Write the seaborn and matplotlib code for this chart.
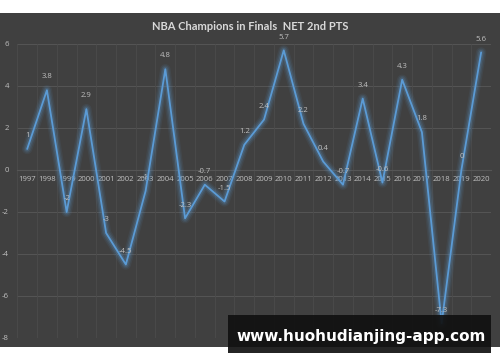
import matplotlib
matplotlib.use("Agg")
import matplotlib.pyplot as plt
import matplotlib.patches as mpatches
import seaborn as sns
import pandas as pd
import numpy as np

years = [str(y) for y in range(1997, 2021)]
values = [1, 3.8, -2, 2.9, -3, -4.5, -1, 4.8, -2.3, -0.7, -1.5, 1.2,
          2.4, 5.7, 2.2, 0.4, -0.7, 3.4, -0.6, 4.3, 1.8, -7.3, 0, 5.6]
labels = ["1", "3.8", "-2", "2.9", "-3", "-4.5", "-1", "4.8", "-2.3", "-0.7", "-1.5", "1.2",
          "2.4", "5.7", "2.2", "0.4", "-0.7", "3.4", "-0.6", "4.3", "1.8", "-7.3", "0", "5.6"]
title = "NBA Champions in Finals  NET 2nd PTS"
yticks = [-8, -6, -4, -2, 0, 2, 4, 6]
watermark = "www.huohudianjing-app.com"

sns.set_style("dark")
plt.rcParams['font.family'] = ['Open Sans', 'Noto Sans CJK SC', 'DejaVu Sans']

BG = "#404040"
GRID = "#555555"
TXT = "#bfbfbf"
BLUE = "#5b9bd5"

fig = plt.figure(figsize=(5.0, 3.62), dpi=100)
fig.patch.set_facecolor("white")
# dark chart area
bg = mpatches.Rectangle((0, 1 - 347 / 362), 1, (347 - 13) / 362,
                        transform=fig.transFigure, facecolor=BG,
                        edgecolor="none", zorder=-10)
fig.add_artist(bg)

ax = fig.add_axes([17.3 / 500, 1 - 338 / 362, (491 - 17.3) / 500, (338 - 44) / 362])
ax.set_facecolor(BG)
ax.patch.set_alpha(0)

df = pd.DataFrame({"x": np.arange(len(years)), "v": values})
# glow
for lw, a in [(7.5, 0.08), (5.5, 0.12), (3.5, 0.2)]:
    sns.lineplot(data=df, x="x", y="v", ax=ax, color=BLUE, lw=lw, alpha=a, zorder=3)
sns.lineplot(data=df, x="x", y="v", ax=ax, color=BLUE, lw=1.3, zorder=4)

ax.set_xlim(-0.5, len(years) - 0.5)
ax.set_ylim(-8, 6)
ax.set_yticks(yticks)
ax.set_yticklabels([str(t) for t in yticks])
ax.set_xticks(np.arange(len(years)))
ax.set_xticklabels(years)
ax.grid(False)
for t in yticks:
    ax.axhline(t, color=GRID, lw=0.7, zorder=1)
for xm in np.arange(-0.5, len(years), 1):
    ax.axvline(xm, color="#4b4b4b", lw=0.6, zorder=1)

for s in ["top", "right", "left"]:
    ax.spines[s].set_visible(False)
ax.spines["bottom"].set_position(("data", 0))
ax.spines["bottom"].set_color(GRID)
ax.tick_params(axis="x", length=0, pad=4, labelsize=5.6, labelcolor=TXT)
ax.tick_params(axis="y", length=0, pad=6, labelsize=5.6, labelcolor=TXT)
ax.set_xlabel("")
ax.set_ylabel("")

for i, (v, lab) in enumerate(zip(values, labels)):
    ax.annotate(lab, (i, v), xytext=(0, 7), textcoords="offset points",
                ha="center", va="bottom", fontsize=5.6, color=TXT, zorder=5)

fig.text(0.5, 1 - 26 / 362, title, ha="center", va="center", fontsize=8,
         fontweight="bold", color="#d9d9d9", family=["Lato", "DejaVu Sans"])

# watermark box
fig.add_artist(mpatches.Rectangle((228 / 500, 1 - 353 / 362), (491 - 228) / 500, 38 / 362,
                                  transform=fig.transFigure, facecolor="#111111",
                                  edgecolor="none", alpha=0.92, zorder=10))
fig.text(236 / 500, 1 - 336 / 362, watermark, ha="left", va="center", fontsize=11,
         fontweight="bold", color="white", family=["DejaVu Sans"], zorder=11)

fig.savefig("out.png", dpi=100, facecolor=fig.get_facecolor())
